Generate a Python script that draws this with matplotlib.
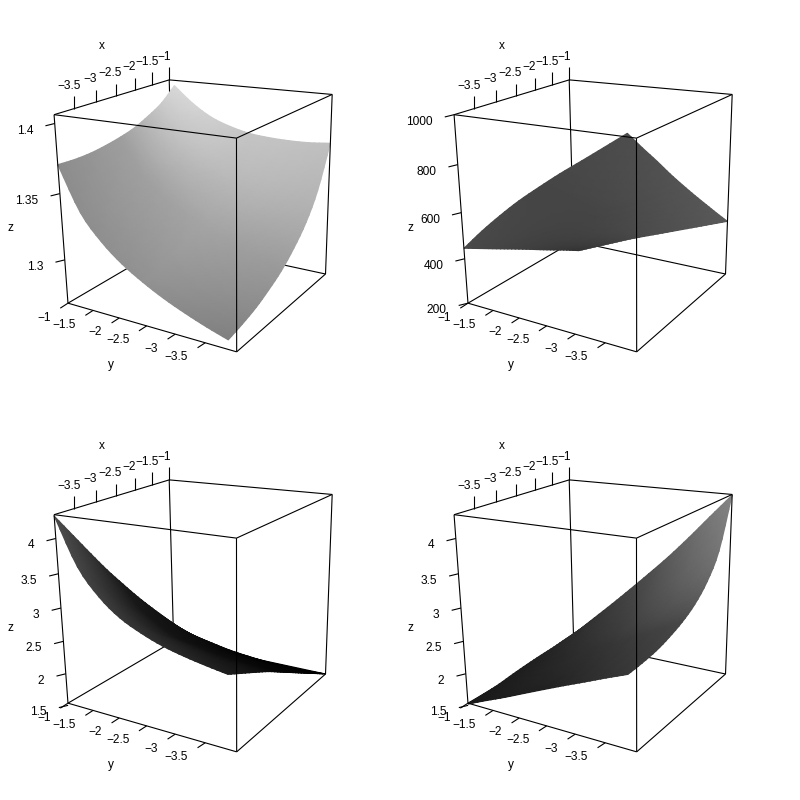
import numpy as np
import matplotlib
matplotlib.use('Agg')
import matplotlib.pyplot as plt

plt.rcParams['font.family'] = ['Liberation Sans', 'DejaVu Sans']

# shared parameter grid (9 x 9 surface nodes)
x_grid = [[-3.94,-3.61,-3.28,-2.95,-2.62,-2.29,-1.96,-1.62,-1.29],
          [-3.90,-3.57,-3.24,-2.91,-2.58,-2.25,-1.92,-1.59,-1.26],
          [-3.87,-3.54,-3.21,-2.87,-2.54,-2.21,-1.88,-1.55,-1.22],
          [-3.83,-3.50,-3.17,-2.84,-2.51,-2.18,-1.84,-1.51,-1.18],
          [-3.79,-3.46,-3.13,-2.80,-2.47,-2.14,-1.81,-1.48,-1.15],
          [-3.76,-3.43,-3.09,-2.76,-2.43,-2.10,-1.77,-1.44,-1.11],
          [-3.72,-3.39,-3.06,-2.73,-2.40,-2.07,-1.73,-1.40,-1.07],
          [-3.68,-3.35,-3.02,-2.69,-2.36,-2.03,-1.70,-1.37,-1.04],
          [-3.65,-3.32,-2.98,-2.65,-2.32,-1.99,-1.66,-1.33,-1.00]]
y_grid = [[-1.00,-1.04,-1.08,-1.11,-1.15,-1.19,-1.23,-1.26,-1.30],
          [-1.34,-1.38,-1.41,-1.45,-1.49,-1.53,-1.56,-1.60,-1.64],
          [-1.68,-1.71,-1.75,-1.79,-1.83,-1.86,-1.90,-1.94,-1.98],
          [-2.01,-2.05,-2.09,-2.13,-2.16,-2.20,-2.24,-2.28,-2.31],
          [-2.35,-2.39,-2.43,-2.46,-2.50,-2.54,-2.58,-2.61,-2.65],
          [-2.69,-2.73,-2.76,-2.80,-2.84,-2.88,-2.91,-2.95,-2.99],
          [-3.03,-3.06,-3.10,-3.14,-3.18,-3.21,-3.25,-3.29,-3.33],
          [-3.36,-3.40,-3.44,-3.48,-3.51,-3.55,-3.59,-3.63,-3.66],
          [-3.70,-3.74,-3.78,-3.81,-3.85,-3.89,-3.93,-3.96,-4.00]]

z_panel1 = [[1.371,1.371,1.372,1.374,1.377,1.381,1.387,1.394,1.405],
            [1.338,1.339,1.342,1.347,1.352,1.358,1.366,1.376,1.392],
            [1.319,1.322,1.325,1.331,1.336,1.344,1.353,1.363,1.382],
            [1.305,1.309,1.313,1.319,1.325,1.333,1.343,1.355,1.376],
            [1.294,1.298,1.303,1.309,1.316,1.325,1.335,1.348,1.372],
            [1.285,1.289,1.294,1.301,1.308,1.318,1.329,1.344,1.370],
            [1.277,1.282,1.288,1.295,1.303,1.314,1.325,1.341,1.369],
            [1.270,1.275,1.281,1.288,1.297,1.309,1.322,1.340,1.369],
            [1.264,1.269,1.275,1.282,1.291,1.303,1.318,1.338,1.370]]
z_panel2 = [[446,415,384,353,322,290,259,227,194],
            [533,494,456,418,380,342,305,267,229],
            [612,566,522,477,434,391,348,306,263],
            [684,632,582,532,484,436,390,343,296],
            [750,692,636,582,530,478,427,377,327],
            [813,750,690,630,574,518,464,410,357],
            [872,806,741,677,617,557,500,443,387],
            [930,860,790,724,660,596,534,476,417],
            [990,917,845,774,705,638,573,510,447]]
z_panel3 = [[4.311,3.976,3.641,3.322,3.022,2.731,2.459,2.194,1.933],
            [3.635,3.379,3.121,2.877,2.648,2.426,2.222,2.023,1.828],
            [3.250,3.050,2.826,2.623,2.431,2.245,2.074,1.908,1.745],
            [2.990,2.815,2.612,2.439,2.271,2.109,1.959,1.813,1.670],
            [2.815,2.660,2.502,2.344,2.189,2.038,1.896,1.757,1.621],
            [2.685,2.545,2.411,2.268,2.122,1.979,1.843,1.710,1.578],
            [2.585,2.460,2.342,2.212,2.076,1.942,1.812,1.684,1.557],
            [2.505,2.390,2.290,2.172,2.043,1.916,1.790,1.665,1.541],
            [2.438,2.341,2.240,2.136,2.016,1.896,1.776,1.655,1.535]]
z_panel4 = [[1.521,1.560,1.600,1.650,1.701,1.746,1.785,1.826,1.868],
            [1.636,1.674,1.713,1.765,1.823,1.881,1.943,2.023,2.151],
            [1.750,1.786,1.827,1.880,1.944,2.014,2.101,2.219,2.433],
            [1.866,1.901,1.941,1.996,2.065,2.148,2.258,2.415,2.715],
            [1.985,2.019,2.061,2.119,2.196,2.292,2.427,2.623,3.010],
            [2.104,2.139,2.183,2.245,2.330,2.441,2.602,2.839,3.315],
            [2.216,2.256,2.307,2.377,2.474,2.604,2.795,3.077,3.645],
            [2.327,2.372,2.431,2.509,2.620,2.770,2.992,3.319,3.980],
            [2.438,2.489,2.556,2.644,2.769,2.939,3.193,3.567,4.321]]

x_ticks = [-3.5, -3, -2.5, -2, -1.5, -1]
y_ticks = [-1, -1.5, -2, -2.5, -3, -3.5]
x_tick_labels = ['\u22123.5', '\u22123', '\u22122.5', '\u22122', '\u22121.5', '\u22121']
y_tick_labels = ['\u22121', '\u22121.5', '\u22122', '\u22122.5', '\u22123', '\u22123.5']
z_ticks_1 = [1.3, 1.35, 1.4]
z_ticks_2 = [200, 400, 600, 800, 1000]
z_ticks_3 = [1.5, 2, 2.5, 3, 3.5, 4]
z_tick_labels_1 = ['1.3', '1.35', '1.4']
z_tick_labels_2 = ['200', '400', '600', '800', '1000']
z_tick_labels_3 = ['1.5', '2', '2.5', '3', '3.5', '4']

x_lim = (-3.94, -1.0)
y_lim = (-1.0, -4.0)
z_lims = [(1.2658, 1.4061), (200, 1000), (1.5346, 4.3293), (1.5346, 4.3293)]

# viewing transform of the box into panel pixels (the analogue of persp()'s matrix)
VIEW = np.array([[137.702862, 138.785603, -17.989374, 67.974983],
                 [-17.420750, 4.222385, -197.139675, 303.164995],
                 [0.184588, -0.126379, -0.075396, 1.0]])

# facet grey level, coarse style table: rows run L->F', columns L->B'
shades = [[[.55, .62, .85], [.57, .64, .77], [.50, .60, .75]],
          [[.29, .25, .20], [.27, .27, .30], [.30, .33, .35]],
          [[.30, .10, .07], [.20, .07, .01], [.12, .02, .00]],
          [[.10, .12, .17], [.13, .20, .30], [.22, .28, .52]]]


def project(x, y, z, zlim):
    u = (np.asarray(x, float) - x_lim[0]) / (x_lim[1] - x_lim[0])
    v = (np.asarray(y, float) - y_lim[0]) / (y_lim[1] - y_lim[0])
    w = (np.asarray(z, float) - zlim[0]) / (zlim[1] - zlim[0])
    h = np.stack([u, v, w, np.ones_like(u + v + w)], axis=-1) @ VIEW.T
    return h[..., 0] / h[..., 2], h[..., 1] / h[..., 2]


def upsample(tab, n):
    tab = np.asarray(tab, float)
    s = np.linspace(0, 2, n)
    rows = np.array([np.interp(s, [0, 1, 2], r) for r in tab])
    return np.array([np.interp(s, [0, 1, 2], c) for c in rows.T]).T


def refine_1d(p, k):
    # Catmull-Rom drawing curve through the nodes
    p = np.asarray(p, float)
    q = np.concatenate([[2 * p[0] - p[1]], p, [2 * p[-1] - p[-2]]])
    out = []
    for i in range(len(p) - 1):
        a, b, c, d = q[i:i + 4]
        for t in np.arange(k) / k:
            out.append(0.5 * (2 * b + (c - a) * t + (2 * a - 5 * b + 4 * c - d) * t ** 2
                              + (3 * b - a - 3 * c + d) * t ** 3))
    out.append(p[-1])
    return np.array(out)


def refine(a, k=4):
    r = np.array([refine_1d(row, k) for row in np.asarray(a, float)])
    return np.array([refine_1d(col, k) for col in r.T]).T


def panel(ax, zgrid, zlim, zticks, zlabels, shade):
    ax.set_xlim(0, 400)
    ax.set_ylim(400, 0)
    ax.axis('off')
    xa, xb = x_lim
    ya, yb = y_lim
    za, zb = zlim
    pts = {'L0': (xa, ya, za), 'L1': (xa, ya, zb), 'B0': (xb, ya, za), 'B1': (xb, ya, zb),
           'R0': (xb, yb, za), 'R1': (xb, yb, zb), 'F0': (xa, yb, za), 'F1': (xa, yb, zb)}
    back = [('B0', 'B1'), ('B0', 'L0'), ('B0', 'R0')]
    front = [('L0', 'L1'), ('R0', 'R1'), ('F0', 'F1'), ('L0', 'F0'), ('F0', 'R0'),
             ('L1', 'F1'), ('F1', 'R1'), ('L1', 'B1'), ('B1', 'R1')]
    for edges, zo in ((back, 1), (front, 3)):
        for a, b in edges:
            xy = [project(*pts[k], zlim) for k in (a, b)]
            ax.plot([xy[0][0], xy[1][0]], [xy[0][1], xy[1][1]], color='black', lw=0.8, zorder=zo,
                    solid_capstyle='butt')

    X, Y = project(refine(x_grid), refine(y_grid), refine(zgrid), zlim)
    C = upsample(shade, X.shape[0])
    ax.pcolormesh(X, Y, C, shading='gouraud', cmap='gray', vmin=0, vmax=1, zorder=2)

    kw = dict(color='black', lw=0.8, zorder=3, solid_capstyle='butt')
    fs = 8.6
    for t, lab in zip(x_ticks, x_tick_labels):
        px, py = project(t, ya, zb, zlim)
        ax.plot([px, px], [py, py - 12.5], **kw)
        ax.text(px - 5.5, py - 23, lab, ha='center', va='center', fontsize=fs, zorder=4)
    for t, lab in zip(y_ticks, y_tick_labels):
        px, py = project(xa, t, za, zlim)
        ax.plot([px, px - 7.7], [py, py + 5], **kw)
        ax.text(px - 17, py + 14.5, lab, ha='right', va='center', fontsize=fs, zorder=4)
    for t, lab in zip(zticks, zlabels):
        px, py = project(xa, ya, t, zlim)
        ax.plot([px, px - 9.3], [py, py + 2.3], **kw)
        ax.text(px - 21.5, py + 7, lab, ha='right', va='center', fontsize=fs, zorder=4)
    ax.text(102, 46, 'x', ha='center', va='center', fontsize=fs, zorder=4)
    ax.text(111, 365, 'y', ha='center', va='center', fontsize=fs, zorder=4)
    ax.text(10, 228, 'z', ha='center', va='center', fontsize=fs, zorder=4)


fig = plt.figure(figsize=(8, 8), dpi=100, facecolor='white')
specs = [(z_panel1, z_ticks_1, z_tick_labels_1), (z_panel2, z_ticks_2, z_tick_labels_2),
         (z_panel3, z_ticks_3, z_tick_labels_3), (z_panel4, z_ticks_3, z_tick_labels_3)]
for i, (zg, zt, zl) in enumerate(specs):
    col, row = i % 2, i // 2
    ax = fig.add_axes([col * 0.5, 0.5 - row * 0.5, 0.5, 0.5])
    panel(ax, zg, z_lims[i], zt, zl, shades[i])
fig.savefig('out.png', dpi=100)
